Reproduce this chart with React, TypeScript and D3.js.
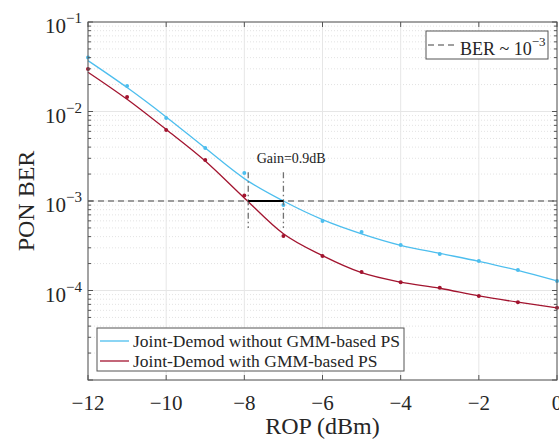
import React from 'react';
import * as d3 from 'd3';

// ROP sweep (dBm)
const rop = [-12, -11, -10, -9, -8, -7, -6, -5, -4, -3, -2, -1, 0];

// measured BER points
const berNoPS = [0.040, 0.0193, 0.00845, 0.0039, 0.00206, 0.00090, 0.000598, 0.00045, 0.000322, 0.000256, 0.000214, 0.000169, 0.000128];
const berPS = [0.0298, 0.0145, 0.0062, 0.00287, 0.00115, 0.000406, 0.000243, 0.000161, 0.000124, 0.000107, 0.000087, 0.000074, 0.000064];

// fitted curves
const fitNoPS = [0.037, 0.0185, 0.0087, 0.0039, 0.00178, 0.00100, 0.00062, 0.00043, 0.00032, 0.00026, 0.000212, 0.000168, 0.000128];
const fitPS = [0.0275, 0.0137, 0.0063, 0.0028, 0.00108, 0.00043, 0.000245, 0.000158, 0.000124, 0.000106, 0.000087, 0.000074, 0.000064];

const xTicks = [-12, -10, -8, -6, -4, -2, 0];
const xTickLabels = ['\u221212', '\u221210', '\u22128', '\u22126', '\u22124', '\u22122', '0'];
const yDecades = [1e-1, 1e-2, 1e-3, 1e-4, 1e-5];
const yTickExp = ['\u22121', '\u22122', '\u22123', '\u22124'];

const seriesNames = ['Joint-Demod without GMM-based PS', 'Joint-Demod with GMM-based PS'];
const seriesColors = ['#4DBEEE', '#A2142F'];

const berThreshold = 1e-3;
const gainFrom = -7.9;
const gainTo = -7.0;
const gainSpan = [2.1e-3, 5e-4];
const gainLabel = 'Gain=0.9dB';

const W = 559;
const H = 443;
const M = { left: 88, right: 2, top: 22, bottom: 63 };
const FONT = '"Liberation Serif", "Times New Roman", serif';

export default function App() {
  const x = d3.scaleLinear().domain([-12, 0]).range([M.left, W - M.right]);
  const y = d3.scaleLog().domain([1e-5, 1e-1]).range([H - M.bottom, M.top]);
  const [x0, x1] = x.range();
  const [y0, y1] = y.range();

  const minor: number[] = [];
  yDecades.slice(1).forEach((d) => {
    for (let k = 2; k <= 9; k++) minor.push(d * k);
  });

  const line = d3
    .line<number>()
    .x((_, i) => x(rop[i]))
    .y((v) => y(v))
    .curve(d3.curveMonotoneX);

  const fits = [fitNoPS, fitPS];
  const pts = [berNoPS, berPS];
  const axisColor = '#555';

  return (
    <svg width={W} height={H} style={{ position: 'absolute', left: 0, top: 0, background: '#fff' }} fontFamily={FONT}>
      {/* grid */}
      {minor.map((v) => (
        <line key={'mg' + v} x1={x0} x2={x1} y1={y(v)} y2={y(v)} stroke="#dcdcdc" strokeWidth={0.8} strokeDasharray="1,2" />
      ))}
      {yDecades.map((v) => (
        <line key={'yg' + v} x1={x0} x2={x1} y1={y(v)} y2={y(v)} stroke="#e6e6e6" strokeWidth={1} />
      ))}
      {xTicks.map((v) => (
        <line key={'xg' + v} x1={x(v)} x2={x(v)} y1={y0} y2={y1} stroke="#e6e6e6" strokeWidth={1} />
      ))}

      {/* BER threshold */}
      <line x1={x0} x2={x1} y1={y(berThreshold)} y2={y(berThreshold)} stroke="#808080" strokeWidth={1.5} strokeDasharray="6,4" />

      {/* curves */}
      {fits.map((f, i) => (
        <path key={'c' + i} d={line(f) || ''} fill="none" stroke={seriesColors[i]} strokeWidth={1.3} />
      ))}
      {pts.map((p, i) =>
        p.map((v, j) => <circle key={'p' + i + j} cx={x(rop[j])} cy={y(v)} r={2} fill={seriesColors[i]} />)
      )}

      {/* gain annotation */}
      {[gainFrom, gainTo].map((g) => (
        <line key={'ga' + g} x1={x(g)} x2={x(g)} y1={y(gainSpan[0])} y2={y(gainSpan[1])} stroke="#707070" strokeWidth={1.3} strokeDasharray="6,3,1.5,3" />
      ))}
      <line x1={x(gainFrom)} x2={x(gainTo)} y1={y(berThreshold)} y2={y(berThreshold)} stroke="#000" strokeWidth={2} />
      <text x={x(-6.8)} y={y(2.65e-3)} fontSize={14} textAnchor="middle" fill="#222">{gainLabel}</text>

      {/* axes box and ticks */}
      <rect x={x0} y={y1} width={x1 - x0} height={y0 - y1} fill="none" stroke={axisColor} strokeWidth={1} />
      {xTicks.map((v) => (
        <g key={'xt' + v}>
          <line x1={x(v)} x2={x(v)} y1={y0} y2={y0 - 5} stroke={axisColor} />
          <line x1={x(v)} x2={x(v)} y1={y1} y2={y1 + 5} stroke={axisColor} />
        </g>
      ))}
      {yDecades.map((v) => (
        <g key={'yt' + v}>
          <line x1={x0} x2={x0 + 5} y1={y(v)} y2={y(v)} stroke={axisColor} />
          <line x1={x1} x2={x1 - 5} y1={y(v)} y2={y(v)} stroke={axisColor} />
        </g>
      ))}
      {minor.map((v) => (
        <g key={'ymt' + v}>
          <line x1={x0} x2={x0 + 3} y1={y(v)} y2={y(v)} stroke={axisColor} />
          <line x1={x1} x2={x1 - 3} y1={y(v)} y2={y(v)} stroke={axisColor} />
        </g>
      ))}

      {/* tick labels */}
      {xTicks.map((v, i) => (
        <text key={'xl' + v} x={x(v)} y={y0 + 30} fontSize={21} textAnchor="middle" fill="#262626">{xTickLabels[i]}</text>
      ))}
      {yTickExp.map((e, i) => (
        <text key={'yl' + e} x={x0 - 6} y={y(yDecades[i]) + 11} fontSize={21} textAnchor="end" fill="#262626">
          10<tspan dy={-10} fontSize={15}>{e}</tspan>
        </text>
      ))}

      {/* axis labels */}
      <text x={(x0 + x1) / 2} y={434} fontSize={24} textAnchor="middle" fill="#262626">ROP (dBm)</text>
      <text transform={`translate(34,${(y0 + y1) / 2}) rotate(-90)`} fontSize={24} textAnchor="middle" fill="#262626">PON BER</text>

      {/* threshold legend */}
      <g>
        <rect x={426} y={31} width={122} height={28} fill="#fff" stroke={axisColor} strokeWidth={1} />
        <line x1={428} x2={458} y1={45} y2={45} stroke="#808080" strokeWidth={1.5} strokeDasharray="6,4" />
        <text x={460} y={55} fontSize={18} fill="#262626">
          BER ~ 10<tspan dy={-9} fontSize={13}>{'\u22123'}</tspan>
        </text>
      </g>

      {/* series legend */}
      <g>
        <rect x={97} y={328} width={307} height={43} fill="#fff" stroke={axisColor} strokeWidth={1} />
        {seriesNames.map((n, i) => (
          <g key={'lg' + i}>
            <line x1={100} x2={129} y1={341 + i * 20} y2={341 + i * 20} stroke={seriesColors[i]} strokeWidth={1.3} />
            <text x={133} y={347 + i * 20} fontSize={17.5} fill="#262626">{n}</text>
          </g>
        ))}
      </g>
    </svg>
  );
}
